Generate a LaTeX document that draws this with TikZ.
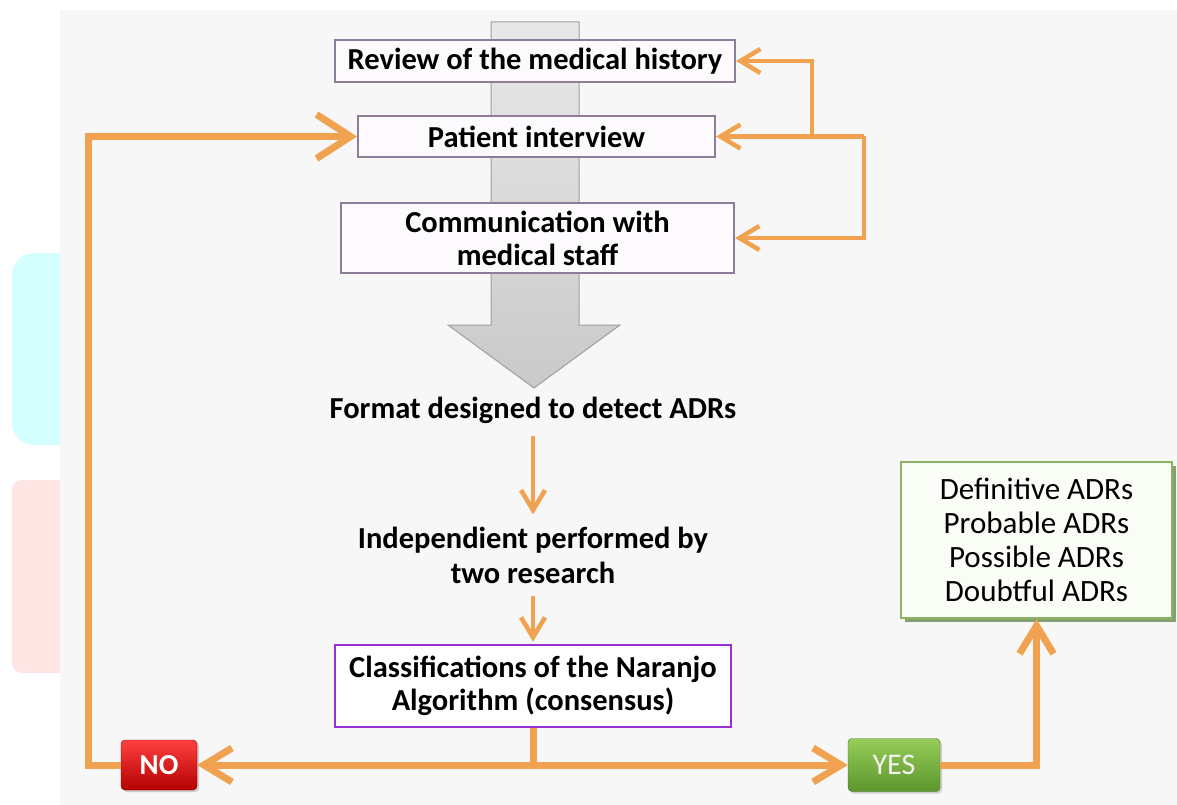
\documentclass[tikz,border=0pt]{standalone}
\usepackage{fontspec}
\setmainfont{Carlito}
\usetikzlibrary{arrows.meta,calc,positioning,shadows}
\definecolor{orng}{RGB}{240,162,80}
\definecolor{panel}{RGB}{247,247,247}
\definecolor{boxline}{RGB}{140,125,152}
\definecolor{boxfill}{RGB}{252,250,253}
\definecolor{naranjo}{RGB}{155,48,210}
\definecolor{adrline}{RGB}{140,178,100}
\definecolor{adrshade}{RGB}{105,140,80}
\definecolor{adrfill}{RGB}{250,252,246}
\definecolor{wmcyan}{RGB}{212,255,255}
\definecolor{wmpink}{RGB}{255,228,228}
\definecolor{yestop}{RGB}{150,205,90}
\definecolor{yesbot}{RGB}{92,150,45}
\tikzset{
  stepbox/.style={draw=boxline, line width=2pt, fill=boxfill, align=center,
    font=\fontsize{30.5}{33}\selectfont\bfseries, inner sep=0pt},
  plain text/.style={align=center, font=\fontsize{30.5}{35}\selectfont\bfseries, inner sep=0pt},
  flow/.style={draw=orng, line width=4.5pt, -{Straight Barb[length=20pt,width=24pt]}},
  big flow/.style={draw=orng, line width=7pt, -{Straight Barb[length=28pt,width=34pt]}},
  huge flow/.style={draw=orng, line width=7pt, -{Straight Barb[length=34pt,width=44pt]}},
  tag/.style={rounded corners=4pt, text=white, inner sep=0pt,
    font=\fontsize{30}{32}\selectfont, drop shadow={shadow xshift=2pt, shadow yshift=-2pt, opacity=0.35}},
}

\begin{document}
\begin{tikzpicture}[x=1pt,y=-1pt]
  \useasboundingbox (0,0) rectangle (1177,805);

  % watermark bits on the left
  \fill[wmcyan, rounded corners=22pt] (12,253) rectangle (90,445);
  \fill[wmpink, rounded corners=10pt] (12,480) rectangle (90,673);

  % grey panel
  \fill[panel] (60,10) rectangle (1177,805);

  % big grey arrow behind the boxes
  \shade[top color=gray!18, bottom color=gray!42, draw=gray!75, line width=1pt]
    (491,22) -- (579,22) -- (579,325) -- (620,325) -- (534,388)
    -- (448,325) -- (491,325) -- cycle;

  % steps
  \node[stepbox, minimum width=400pt, minimum height=42pt] (rev) at (535,61) {Review of the medical history};
  \node[stepbox, minimum width=357pt, minimum height=41pt] (pat) at (536.5,136.5) {Patient interview};
  \node[stepbox, minimum width=393pt, minimum height=70pt] (com) at (537.5,238) {Communication with\\medical staff};

  \node[plain text] (fmt) at (533,410) {Format designed to detect ADRs};
  \node[plain text] (ind) at (533,555) {Independient performed by\\two research};
  \node[stepbox, draw=naranjo, line width=2.5pt, fill=white, minimum width=396pt, minimum height=82pt]
    (nar) at (533,686) {Classifications of the Naranjo\\Algorithm (consensus)};

  \node[draw=adrline, line width=2pt, fill=adrfill, minimum width=271pt, minimum height=156pt,
    align=center, font=\fontsize{31}{34}\selectfont,
    drop shadow={shadow xshift=4pt, shadow yshift=-4pt, fill=adrshade, opacity=0.8}]
    (adr) at (1036.5,540) {Definitive ADRs\\Probable ADRs\\Possible ADRs\\Doubtful ADRs};

  % decisions
  \node[tag, top color=red!75!white, bottom color=red!70!black, draw=red!55!black,
    minimum width=76pt, minimum height=50pt, font=\fontsize{29}{32}\selectfont\bfseries] (no) at (159,765) {NO};
  \node[tag, top color=yestop, bottom color=yesbot, draw=yesbot!80!black, text=white!90!gray,
    minimum width=92pt, minimum height=53pt] (yes) at (894,765) {YES};

  % feedback arrows on the right
  \coordinate (fbA) at (812,136.5);
  \coordinate (fbB) at (864,136.5);
  \draw[flow] (fbA) |- (rev.east);
  \draw[flow] (fbB) -- (pat.east);
  \draw[flow] (fbB) |- (com.east);

  % main flow
  \draw[flow, shorten <=13pt, shorten >=12pt] (fmt) -- (ind);
  \draw[flow, shorten <=12pt, shorten >=2pt] (ind) -- (nar);

  \coordinate (split) at (nar.south |- no);
  \draw[draw=orng, line width=7pt] (nar.south) -- (split);
  \draw[big flow] (split) -- (no.east);
  \draw[big flow] (split) -- (yes.west);
  \draw[big flow] (yes.east) -| (adr.south);

  % back to the interview
  \coordinate (loopL) at (88,765);
  \draw[huge flow] (no.west) -- (loopL) |- (pat.west);
\end{tikzpicture}
\end{document}
